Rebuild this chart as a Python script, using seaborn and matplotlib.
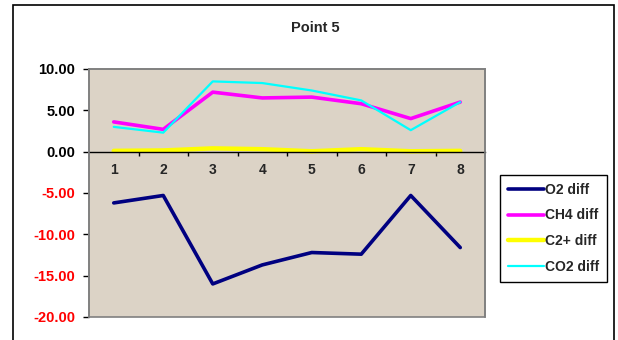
import numpy as np
import pandas as pd
import matplotlib
matplotlib.use('Agg')
import matplotlib.pyplot as plt
from matplotlib.patches import Rectangle
import seaborn as sns

points = [1, 2, 3, 4, 5, 6, 7, 8]
o2_diff = [-6.2, -5.3, -16.0, -13.7, -12.2, -12.4, -5.3, -11.6]
ch4_diff = [3.6, 2.7, 7.2, 6.5, 6.6, 5.8, 4.0, 6.0]
c2_diff = [0.1, 0.15, 0.4, 0.3, 0.05, 0.3, 0.05, 0.1]
co2_diff = [3.0, 2.3, 8.5, 8.3, 7.4, 6.2, 2.6, 6.0]
series_names = ['O2 diff', 'CH4 diff', 'C2+ diff', 'CO2 diff']
y_ticks = [10, 5, 0, -5, -10, -15, -20]

sns.set_style('white')
plt.rcParams['font.family'] = ['Liberation Sans', 'DejaVu Sans']

fig = plt.figure(figsize=(6.18, 3.40), dpi=100)
fig.patch.set_facecolor('white')

# outer chart border (bottom edge is off the picture)
fig.patches.append(Rectangle((13 / 618, -0.1), (614 - 13) / 618, 1.1 - 5 / 340,
                             transform=fig.transFigure, fill=False,
                             edgecolor='black', linewidth=1.2))

ax = fig.add_axes([89 / 618, 23 / 340, 396 / 618, 248 / 340])
ax.set_facecolor('#dcd3c6')

df = pd.DataFrame({'point': points, 'O2 diff': o2_diff, 'CH4 diff': ch4_diff,
                   'C2+ diff': c2_diff, 'CO2 diff': co2_diff})
colors = {'O2 diff': '#000080', 'CH4 diff': '#ff00ff',
          'C2+ diff': '#ffff00', 'CO2 diff': '#00ffff'}
widths = {'O2 diff': 2.6, 'CH4 diff': 2.6, 'C2+ diff': 3.2, 'CO2 diff': 1.6}

for name in series_names:
    sns.lineplot(x='point', y=name, data=df, ax=ax, color=colors[name],
                 linewidth=widths[name], label=name, legend=False)

ax.set_xlim(0.5, 8.5)
ax.set_ylim(-20, 10)
ax.set_xlabel('')
ax.set_ylabel('')

# plot area frame, x axis sits on zero
for s in ['top', 'right', 'left']:
    ax.spines[s].set_color('#808080')
    ax.spines[s].set_linewidth(1.2)
ax.spines['bottom'].set_position(('data', 0))
ax.spines['bottom'].set_color('black')
ax.spines['bottom'].set_linewidth(1.0)
ax.add_patch(Rectangle((0, 0), 1, 1, transform=ax.transAxes, fill=False,
                       edgecolor='#808080', linewidth=1.2, clip_on=False, zorder=5))

ax.set_xticks([p + 0.5 for p in points[:-1]])
ax.set_xticklabels([])
ax.set_xticks(points, minor=True)
ax.set_xticklabels([str(p) for p in points], minor=True, fontsize=10, fontweight='bold')
ax.tick_params(axis='x', which='major', direction='out', length=3, width=1, color='black', bottom=True)
ax.tick_params(axis='x', which='minor', length=0, pad=8)

ax.set_yticks(y_ticks)
ax.set_yticklabels([f'{v:.2f}' for v in y_ticks], fontsize=10.5, fontweight='bold')
ax.tick_params(axis='y', direction='out', length=4, width=1, color='black', left=True, pad=6)
for lbl, v in zip(ax.get_yticklabels(), y_ticks):
    lbl.set_color('red' if v < 0 else 'black')

fig.text(315 / 618, 1 - 28 / 340, 'Point 5', ha='center', va='center',
         fontsize=10.5, fontweight='bold')

handles, labels = ax.get_legend_handles_labels()
leg = fig.legend(handles, labels, loc='upper left',
                 bbox_to_anchor=(500 / 618, 1 - 175 / 340),
                 frameon=True, fancybox=False, framealpha=1, edgecolor='black',
                 prop={'size': 10, 'weight': 'bold'}, handlelength=2.6,
                 handletextpad=0.1, labelspacing=0.85, borderpad=0.55,
                 borderaxespad=0)
leg.get_frame().set_linewidth(1.0)

fig.savefig('out.png', dpi=100)
